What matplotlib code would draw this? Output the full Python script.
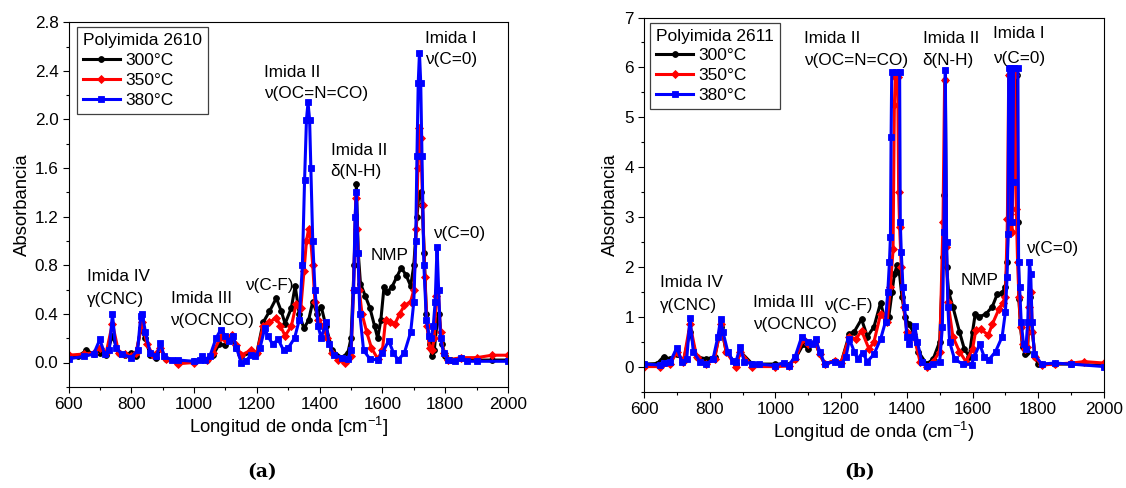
import matplotlib
matplotlib.use("Agg")
import matplotlib.pyplot as plt
from matplotlib.ticker import MultipleLocator, FormatStrFormatter

plt.rcParams['font.family'] = ['Liberation Sans', 'DejaVu Sans']
plt.rcParams['mathtext.fontset'] = 'custom'
plt.rcParams['mathtext.rm'] = 'Liberation Sans'

# ---------------- Panel (a): Polyimida 2610 ----------------
wn_a_300 = [600, 630, 657, 680, 700, 720, 740, 760, 780, 800, 815, 830, 845, 860, 880, 893, 910, 950, 1000, 1040,
            1060, 1080, 1100, 1120, 1135, 1150, 1180, 1200, 1220, 1240, 1262, 1278, 1290, 1310, 1322, 1335, 1350,
            1365, 1378, 1392, 1405, 1420, 1440, 1470, 1490, 1500, 1510, 1517, 1523, 1530, 1545, 1560, 1575, 1585,
            1595, 1605, 1615, 1630, 1645, 1660, 1675, 1690, 1700, 1710, 1716, 1722, 1727, 1733, 1740, 1750, 1758,
            1765, 1775, 1780, 1790, 1800, 1820, 1850, 1870, 1900, 1950, 2000]
abs_a_300 = [0.04, 0.05, 0.10, 0.07, 0.08, 0.06, 0.22, 0.08, 0.06, 0.08, 0.05, 0.28, 0.20, 0.06, 0.04, 0.12, 0.03,
             0.00, 0.01, 0.02, 0.06, 0.15, 0.14, 0.20, 0.12, 0.05, 0.08, 0.08, 0.33, 0.42, 0.53, 0.42, 0.32, 0.45,
             0.63, 0.40, 0.28, 0.35, 0.50, 0.40, 0.46, 0.30, 0.10, 0.04, 0.08, 0.20, 0.80, 1.47, 0.90, 0.65, 0.55,
             0.45, 0.30, 0.20, 0.35, 0.62, 0.58, 0.62, 0.70, 0.78, 0.72, 0.63, 0.80, 1.20, 1.38, 1.40, 1.30, 0.90,
             0.40, 0.15, 0.05, 0.10, 0.35, 0.40, 0.15, 0.05, 0.02, 0.04, 0.02, 0.02, 0.02, 0.02]

wn_a_350 = [600, 650, 680, 700, 720, 740, 760, 780, 800, 815, 835, 850, 870, 893, 910, 950, 1000, 1040, 1060, 1085,
            1100, 1120, 1135, 1150, 1180, 1200, 1220, 1240, 1262, 1275, 1290, 1310, 1325, 1340, 1350, 1358, 1365,
            1372, 1378, 1385, 1395, 1410, 1425, 1440, 1460, 1480, 1500, 1508, 1515, 1520, 1526, 1535, 1550, 1565,
            1585, 1600, 1610, 1625, 1640, 1655, 1670, 1690, 1700, 1708, 1713, 1717, 1722, 1728, 1735, 1742, 1750,
            1758, 1765, 1772, 1778, 1785, 1795, 1810, 1850, 1900, 1950, 2000]
abs_a_350 = [0.06, 0.07, 0.08, 0.12, 0.08, 0.32, 0.08, 0.07, 0.05, 0.08, 0.33, 0.15, 0.06, 0.12, 0.03, -0.01, 0.00,
             0.02, 0.08, 0.21, 0.19, 0.23, 0.14, 0.06, 0.10, 0.08, 0.30, 0.33, 0.37, 0.30, 0.22, 0.30, 0.48, 0.45,
             0.75, 1.00, 1.10, 1.00, 0.80, 0.50, 0.35, 0.30, 0.20, 0.08, 0.02, 0.00, 0.05, 0.60, 1.35, 1.10, 0.60,
             0.40, 0.25, 0.12, 0.03, 0.10, 0.35, 0.33, 0.32, 0.40, 0.47, 0.50, 0.60, 1.10, 1.60, 1.93, 1.85, 1.30,
             0.70, 0.30, 0.12, 0.10, 0.20, 0.55, 0.60, 0.25, 0.08, 0.02, 0.04, 0.04, 0.06, 0.06]

wn_a_380 = [600, 650, 680, 700, 715, 730, 740, 750, 770, 800, 820, 830, 835, 845, 860, 880, 893, 905, 930, 950, 1000,
            1020, 1025, 1035, 1050, 1070, 1085, 1100, 1110, 1125, 1135, 1150, 1165, 1180, 1195, 1210, 1225, 1235,
            1250, 1268, 1285, 1300, 1320, 1335, 1345, 1352, 1358, 1363, 1368, 1372, 1378, 1385, 1395, 1405, 1420,
            1430, 1445, 1470, 1490, 1500, 1508, 1513, 1517, 1522, 1528, 1540, 1560, 1585, 1600, 1620, 1635, 1650,
            1670, 1690, 1700, 1706, 1710, 1714, 1718, 1722, 1726, 1732, 1740, 1748, 1755, 1762, 1768, 1774, 1779,
            1785, 1795, 1810, 1830, 1850, 1870, 1900, 2000]
abs_a_380 = [0.03, 0.05, 0.07, 0.19, 0.07, 0.10, 0.40, 0.12, 0.07, 0.04, 0.10, 0.38, 0.40, 0.25, 0.08, 0.05, 0.16,
             0.05, 0.02, 0.02, 0.01, 0.02, 0.05, 0.02, 0.05, 0.20, 0.27, 0.22, 0.18, 0.22, 0.12, 0.00, 0.01, 0.06,
             0.05, 0.12, 0.28, 0.22, 0.15, 0.19, 0.10, 0.12, 0.20, 0.35, 0.80, 1.50, 2.00, 2.14, 2.00, 1.60, 1.00,
             0.60, 0.30, 0.20, 0.33, 0.15, 0.06, 0.04, 0.03, 0.10, 0.60, 1.20, 1.40, 0.90, 0.40, 0.10, 0.03, 0.02,
             0.08, 0.18, 0.08, 0.02, 0.08, 0.25, 0.50, 1.00, 1.70, 2.30, 2.55, 2.30, 1.70, 0.80, 0.35, 0.22, 0.20,
             0.30, 0.50, 0.95, 0.60, 0.20, 0.08, 0.02, 0.01, 0.04, 0.01, 0.01, 0.01]

# ---------------- Panel (b): Polyimida 2611 ----------------
wn_b_300 = [600, 640, 660, 680, 700, 720, 740, 760, 790, 815, 835, 850, 880, 893, 930, 1000, 1040, 1060, 1085, 1100,
            1120, 1135, 1150, 1180, 1200, 1225, 1240, 1262, 1280, 1300, 1320, 1335, 1345, 1355, 1362, 1370, 1377,
            1385, 1395, 1405, 1420, 1435, 1460, 1480, 1500, 1510, 1514, 1517, 1521, 1527, 1540, 1560, 1575, 1590,
            1600, 1608, 1620, 1640, 1660, 1675, 1690, 1700, 1705, 1709, 1712, 1735, 1738, 1741, 1746, 1752, 1760,
            1767, 1775, 1782, 1790, 1800, 1850, 1900, 2000]
abs_b_300 = [0.05, 0.06, 0.20, 0.15, 0.25, 0.12, 0.70, 0.20, 0.15, 0.20, 0.80, 0.30, 0.05, 0.30, 0.05, 0.05, 0.04,
             0.15, 0.45, 0.35, 0.50, 0.25, 0.05, 0.12, 0.08, 0.65, 0.70, 0.95, 0.60, 0.80, 1.28, 0.90, 1.00, 1.50,
             1.85, 2.03, 1.90, 1.40, 1.00, 0.85, 0.70, 0.30, 0.05, 0.15, 0.50, 2.20, 3.45, 5.75, 2.00, 1.50, 1.20,
             0.70, 0.35, 0.20, 0.70, 1.05, 1.00, 1.05, 1.20, 1.45, 1.48, 1.60, 2.10, 2.95, 5.85, 5.85, 2.90, 1.35,
             0.80, 0.40, 0.25, 0.30, 1.40, 0.70, 0.20, 0.05, 0.05, 0.05, 0.02]

wn_b_350 = [600, 650, 680, 700, 720, 740, 760, 790, 815, 835, 850, 880, 893, 930, 1000, 1040, 1060, 1085, 1100, 1120,
            1135, 1150, 1180, 1200, 1225, 1245, 1262, 1285, 1300, 1320, 1340, 1350, 1358, 1362, 1365, 1372, 1375,
            1378, 1383, 1390, 1400, 1420, 1440, 1460, 1480, 1500, 1510, 1515, 1520, 1525, 1540, 1560, 1580, 1600,
            1610, 1625, 1648, 1660, 1680, 1692, 1700, 1706, 1710, 1714, 1720, 1728, 1733, 1737, 1741, 1746, 1752,
            1760, 1767, 1772, 1778, 1782, 1790, 1810, 1850, 1900, 1940, 2000]
abs_b_350 = [0.00, 0.00, 0.05, 0.30, 0.10, 0.85, 0.20, 0.05, 0.15, 0.85, 0.30, 0.00, 0.30, 0.00, 0.00, 0.01, 0.15,
             0.55, 0.45, 0.50, 0.25, 0.05, 0.12, 0.08, 0.60, 0.55, 0.72, 0.35, 0.50, 1.05, 0.90, 1.60, 2.35, 5.25,
             5.80, 5.80, 3.50, 2.80, 2.00, 1.20, 0.70, 0.65, 0.10, 0.00, 0.10, 0.30, 2.90, 5.75, 2.40, 1.30, 0.60,
             0.30, 0.10, 0.35, 0.74, 0.75, 0.63, 0.85, 1.15, 1.28, 1.40, 2.95, 5.85, 3.05, 2.70, 5.85, 3.15, 2.10,
             1.40, 0.80, 0.45, 0.35, 0.40, 1.20, 1.50, 0.70, 0.20, 0.03, 0.05, 0.07, 0.10, 0.07]

wn_b_380 = [600, 650, 660, 680, 700, 715, 730, 740, 750, 770, 790, 810, 825, 833, 840, 855, 870, 880, 893, 905, 930,
            950, 1000, 1025, 1040, 1060, 1080, 1100, 1110, 1122, 1135, 1150, 1180, 1200, 1215, 1225, 1240, 1250,
            1265, 1280, 1300, 1320, 1335, 1342, 1347, 1350, 1352, 1354, 1366, 1378, 1380, 1383, 1388, 1393, 1400,
            1408, 1416, 1424, 1432, 1445, 1460, 1480, 1500, 1508, 1513, 1517, 1521, 1525, 1530, 1545, 1570, 1597,
            1605, 1622, 1635, 1650, 1670, 1690, 1700, 1705, 1708, 1710, 1716, 1719, 1722, 1725, 1738, 1740, 1743,
            1748, 1755, 1762, 1768, 1773, 1777, 1781, 1788, 1810, 1850, 1900, 2000]
abs_b_380 = [0.05, 0.03, 0.08, 0.10, 0.38, 0.10, 0.15, 0.97, 0.30, 0.10, 0.05, 0.15, 0.60, 0.95, 0.70, 0.30, 0.12,
             0.10, 0.40, 0.10, 0.05, 0.05, 0.02, 0.08, 0.02, 0.20, 0.60, 0.50, 0.45, 0.55, 0.30, 0.05, 0.10, 0.05,
             0.20, 0.55, 0.30, 0.15, 0.28, 0.10, 0.25, 0.55, 0.90, 1.50, 2.10, 2.60, 4.60, 5.90, 5.90, 5.90, 2.90,
             2.30, 1.60, 1.20, 0.60, 0.45, 0.60, 0.82, 0.50, 0.10, 0.02, 0.05, 0.10, 0.80, 2.70, 5.95, 2.50, 1.20,
             0.50, 0.15, 0.05, 0.04, 0.20, 0.45, 0.20, 0.14, 0.30, 0.60, 1.10, 1.80, 2.65, 5.98, 5.98, 2.90, 3.70,
             5.98, 5.98, 2.10, 1.60, 0.90, 0.45, 0.35, 0.90, 2.10, 1.85, 0.90, 0.25, 0.05, 0.07, 0.05, 0.00]

series_labels = ["300°C", "350°C", "380°C"]
colors = ["#000000", "#ff0000", "#0000ff"]
markers = ["o", "D", "s"]

FS = 12.3

fig = plt.figure(figsize=(11.26, 4.88), dpi=100)
ax_a = fig.add_axes([68.5 / 1126, 1 - 386.8 / 488, 439.5 / 1126, 364.5 / 488])
ax_b = fig.add_axes([644 / 1126, 1 - 391.5 / 488, 460 / 1126, 374 / 488])


def draw(ax, data, title, ylim, ymaj, ymin, xlabel, leg_anchor, ylab_x):
    for (x, y), lab, c, m in zip(data, series_labels, colors, markers):
        ax.plot(x, y, color=c, lw=2.2, marker=m, ms=4.2 if m != "D" else 3.6,
                markeredgewidth=0.6, label=lab)
    ax.set_xlim(600, 2000)
    ax.set_ylim(*ylim)
    ax.xaxis.set_major_locator(MultipleLocator(200))
    ax.xaxis.set_minor_locator(MultipleLocator(100))
    ax.yaxis.set_major_locator(MultipleLocator(ymaj))
    ax.yaxis.set_minor_locator(MultipleLocator(ymin))
    ax.tick_params(which='both', direction='out', top=False, right=False, labelsize=FS)
    ax.tick_params(which='major', length=4, width=0.8, pad=3.2)
    ax.tick_params(which='minor', length=2.2, width=0.8)
    for sp in ax.spines.values():
        sp.set_linewidth(0.8)
    ax.set_xlabel(xlabel, fontsize=13.3, labelpad=2.5)
    ax.set_ylabel("Absorbancia", fontsize=13.3)
    ax.yaxis.set_label_coords(ylab_x, 0.5)
    leg = ax.legend(title=title, loc='upper left', bbox_to_anchor=leg_anchor, borderaxespad=0,
                    fontsize=12.5, title_fontsize=12.5,
                    fancybox=False, edgecolor='#404040', framealpha=1, borderpad=0.35,
                    handlelength=2.15, handletextpad=0.3, labelspacing=0.27, alignment='left')
    leg.get_frame().set_linewidth(0.9)


draw(ax_a, [(wn_a_300, abs_a_300), (wn_a_350, abs_a_350), (wn_a_380, abs_a_380)],
     "Polyimida 2610", (-0.2, 2.8), 0.4, 0.2, "Longitud de onda [cm$^{-1}$]",
     (0.0187, 0.9863), -0.085)
ax_a.yaxis.set_major_formatter(FormatStrFormatter('%.1f'))
draw(ax_b, [(wn_b_300, abs_b_300), (wn_b_350, abs_b_350), (wn_b_380, abs_b_380)],
     "Polyimida 2611", (-0.5, 7.0), 1, 0.5, "Longitud de onda (cm$^{-1}$)",
     (0.013, 0.9866), -0.054)

ann_a = [(658, 0.706, "Imida IV"), (658, 0.52, "γ(CNC)"),
         (925, 0.523, "Imida III"), (925, 0.342, "ν(OCNCO)"),
         (1162, 0.632, "ν(C-F)"),
         (1224, 2.388, "Imida II"), (1224, 2.215, "ν(OC=N=CO)"),
         (1435, 1.743, "Imida II"), (1435, 1.570, "δ(N-H)"),
         (1561, 0.877, "NMP"),
         (1737, 2.663, "Imida I"), (1737, 2.495, "ν(C=0)"),
         (1761, 1.058, "ν(C=0)")]
for x, y, t in ann_a:
    ax_a.text(x, y, t, fontsize=FS, ha='left', va='center')

ann_b = [(649, 1.69, "Imida IV"), (649, 1.22, "γ(CNC)"),
         (931, 1.29, "Imida III"), (931, 0.85, "ν(OCNCO)"),
         (1147, 1.22, "ν(C-F)"),
         (1088, 6.57, "Imida II"), (1088, 6.14, "ν(OC=N=CO)"),
         (1448, 6.57, "Imida II"), (1448, 6.14, "δ(N-H)"),
         (1661, 6.67, "Imida I"), (1661, 6.18, "ν(C=0)"),
         (1563, 1.72, "NMP"),
         (1763, 2.36, "ν(C=0)")]
for x, y, t in ann_b:
    ax_b.text(x, y, t, fontsize=FS, ha='left', va='center')

fig.text(262 / 1126, 1 - 472 / 488, "(a)", fontsize=13.5, fontweight='bold', family='DejaVu Serif',
         ha='center', va='center')
fig.text(860 / 1126, 1 - 472 / 488, "(b)", fontsize=13.5, fontweight='bold', family='DejaVu Serif',
         ha='center', va='center')

fig.savefig("out.png", dpi=100)
